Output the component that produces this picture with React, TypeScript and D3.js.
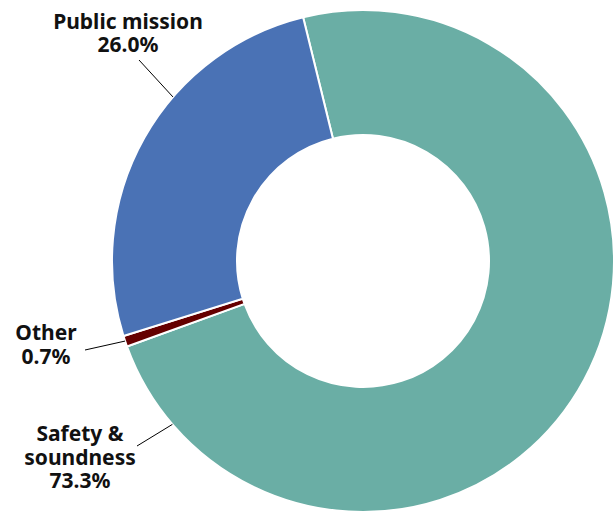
import React from "react";
import * as d3 from "d3";

const categories = ["Safety & soundness", "Other", "Public mission"];
const values = [73.3, 0.7, 26.0];
const colors = ["#6aaea5", "#650000", "#4a72b5"];
const labelLines = [
  ["Safety &", "soundness", "73.3%"],
  ["Other", "0.7%"],
  ["Public mission", "26.0%"],
];

const W = 614;
const H = 513;
const cx = 363;
const cy = 261;
const R = 251;
const r0 = 126;
const startDeg = -13.8;

// label placement: center x, first baseline y, leader angle (deg), leader outer point
const labelPos = [
  { x: 80, y: 441, ang: -130.6, lx: 137, ly: 446 },
  { x: 46, y: 340, ang: -108.6, lx: 85, ly: 350 },
  { x: 128, y: 28.5, ang: -49.2, lx: 139, ly: 60 },
];

export default function App() {
  const pie = d3
    .pie<number>()
    .sort(null)
    .startAngle((startDeg * Math.PI) / 180)
    .endAngle((startDeg * Math.PI) / 180 + 2 * Math.PI);
  const arcs = pie(values);
  const arc = d3.arc<d3.PieArcDatum<number>>().innerRadius(r0).outerRadius(R);

  return (
    <svg
      width={W}
      height={H}
      style={{ position: "absolute", left: 0, top: 0 }}
      fontFamily="'Noto Sans', sans-serif"
    >
      <g transform={`translate(${cx},${cy})`}>
        {arcs.map((a, i) => (
          <path key={i} d={arc(a) || ""} fill={colors[i]} stroke="#fff" strokeWidth={2} />
        ))}
      </g>
      {labelPos.map((p, i) => {
        const t = (p.ang * Math.PI) / 180;
        const x1 = cx + R * Math.sin(t);
        const y1 = cy - R * Math.cos(t);
        return (
          <g key={i}>
            <line x1={x1} y1={y1} x2={p.lx} y2={p.ly} stroke="#000" strokeWidth={1} />
            <text textAnchor="middle" fontWeight={700} fontSize={21} fill="#111">
              {labelLines[i].map((l, j) => (
                <tspan key={j} x={p.x} y={p.y + j * 23.5}>
                  {l}
                </tspan>
              ))}
            </text>
          </g>
        );
      })}
    </svg>
  );
}
